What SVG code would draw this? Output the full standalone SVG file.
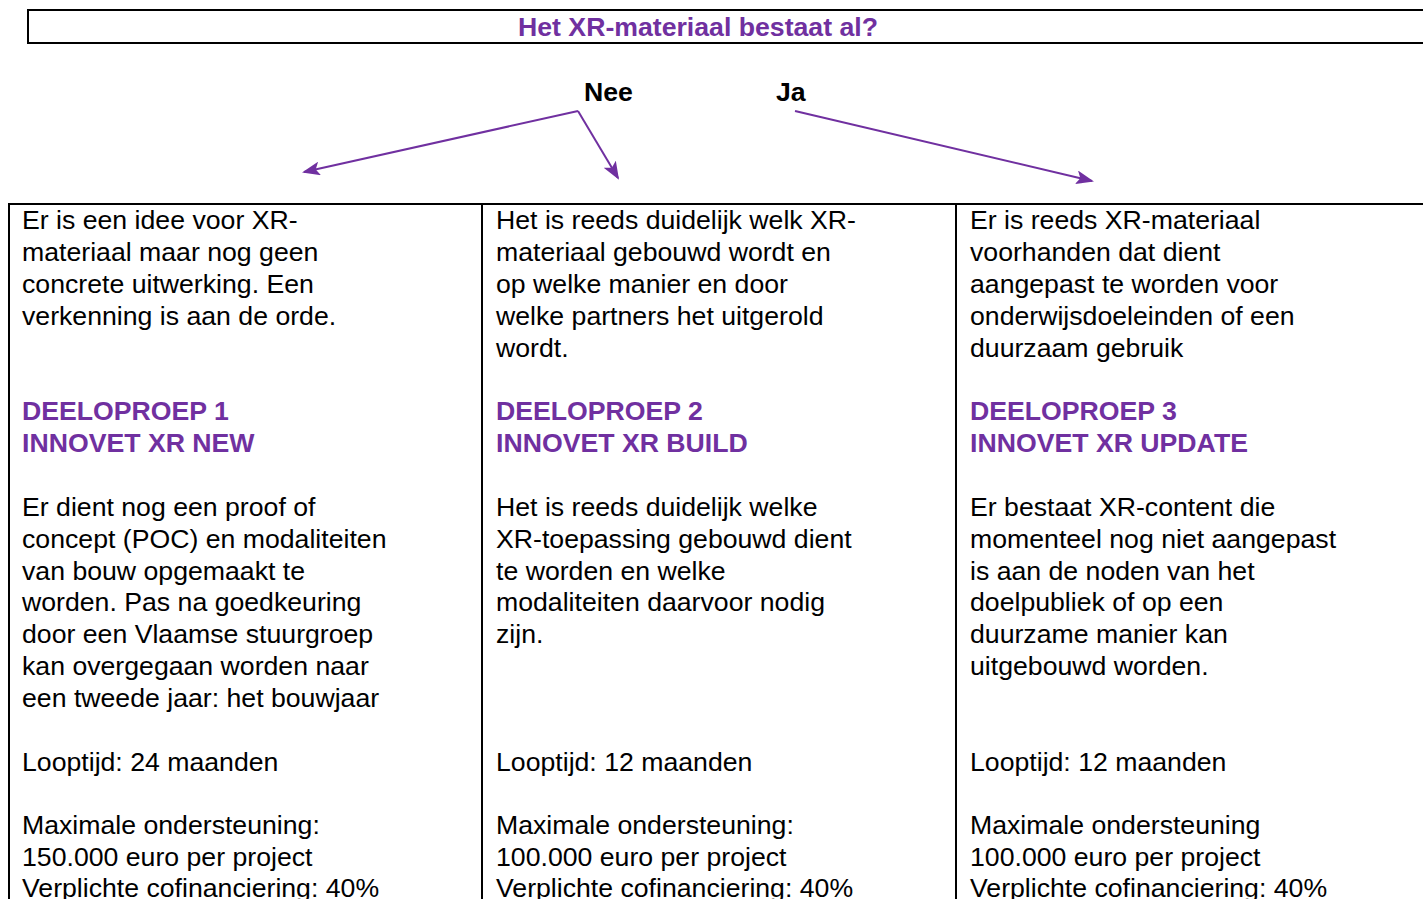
<svg xmlns="http://www.w3.org/2000/svg" width="1423" height="899" viewBox="0 0 1423 899">
<style>
.t{font-family:"Liberation Sans",Arial,sans-serif;font-size:26.67px;fill:#000}
.h{font-family:"Liberation Sans",Arial,sans-serif;font-size:26.67px;font-weight:bold;fill:#7030A0}
.b{font-family:"Liberation Sans",Arial,sans-serif;font-size:26.67px;font-weight:bold;fill:#000}
.ln{stroke:#000;stroke-width:2;fill:none}
.ar{stroke:#7030A0;stroke-width:2;fill:none;marker-end:url(#ah)}
</style>
<defs>
<marker id="ah" viewBox="0 0 18 14" refX="16" refY="7" markerWidth="18" markerHeight="14" markerUnits="userSpaceOnUse" orient="auto">
<path d="M0,0 L18,7 L0,14 L4,7 Z" fill="#7030A0"/>
</marker>
</defs>
<rect width="1423" height="899" fill="#fff"/>
<g id="question">
<rect x="28" y="10" width="1400" height="33" class="ln"/>
<text x="698" y="36" class="h" text-anchor="middle">Het XR-materiaal bestaat al?</text>
</g>
<g id="labels">
<text x="584" y="101" class="b">Nee</text>
<text x="776" y="101" class="b">Ja</text>
</g>
<g id="connectors">
<polyline points="578,111 304,172" class="ar"/>
<polyline points="578,111 618,178" class="ar"/>
<polyline points="795,111 1092,181" class="ar"/>
</g>
<g id="table">
<line x1="8" y1="204" x2="1423" y2="204" class="ln"/>
<line x1="9" y1="204" x2="9" y2="899" class="ln"/>
<line x1="482" y1="204" x2="482" y2="899" class="ln"/>
<line x1="956" y1="204" x2="956" y2="899" class="ln"/>
</g>
<g id="col1">
<text class="t" x="22"><tspan x="22" y="229">Er is een idee voor XR-</tspan><tspan x="22" y="261">materiaal maar nog geen</tspan><tspan x="22" y="293">concrete uitwerking. Een</tspan><tspan x="22" y="325">verkenning is aan de orde.</tspan></text>
<text class="h"><tspan x="22" y="420">DEELOPROEP 1</tspan><tspan x="22" y="452">INNOVET XR NEW</tspan></text>
<text class="t"><tspan x="22" y="516">Er dient nog een proof of</tspan><tspan x="22" y="548">concept (POC) en modaliteiten</tspan><tspan x="22" y="580">van bouw opgemaakt te</tspan><tspan x="22" y="611">worden. Pas na goedkeuring</tspan><tspan x="22" y="643">door een Vlaamse stuurgroep</tspan><tspan x="22" y="675">kan overgegaan worden naar</tspan><tspan x="22" y="707">een tweede jaar: het bouwjaar</tspan></text>
<text class="t" x="22" y="771">Looptijd: 24 maanden</text>
<text class="t"><tspan x="22" y="834">Maximale ondersteuning:</tspan><tspan x="22" y="866">150.000 euro per project</tspan><tspan x="22" y="897">Verplichte cofinanciering: 40%</tspan></text>
</g>
<g id="col2">
<text class="t"><tspan x="496" y="229">Het is reeds duidelijk welk XR-</tspan><tspan x="496" y="261">materiaal gebouwd wordt en</tspan><tspan x="496" y="293">op welke manier en door</tspan><tspan x="496" y="325">welke partners het uitgerold</tspan><tspan x="496" y="357">wordt.</tspan></text>
<text class="h"><tspan x="496" y="420">DEELOPROEP 2</tspan><tspan x="496" y="452">INNOVET XR BUILD</tspan></text>
<text class="t"><tspan x="496" y="516">Het is reeds duidelijk welke</tspan><tspan x="496" y="548">XR-toepassing gebouwd dient</tspan><tspan x="496" y="580">te worden en welke</tspan><tspan x="496" y="611">modaliteiten daarvoor nodig</tspan><tspan x="496" y="643">zijn.</tspan></text>
<text class="t" x="496" y="771">Looptijd: 12 maanden</text>
<text class="t"><tspan x="496" y="834">Maximale ondersteuning:</tspan><tspan x="496" y="866">100.000 euro per project</tspan><tspan x="496" y="897">Verplichte cofinanciering: 40%</tspan></text>
</g>
<g id="col3">
<text class="t"><tspan x="970" y="229">Er is reeds XR-materiaal</tspan><tspan x="970" y="261">voorhanden dat dient</tspan><tspan x="970" y="293">aangepast te worden voor</tspan><tspan x="970" y="325">onderwijsdoeleinden of een</tspan><tspan x="970" y="357">duurzaam gebruik</tspan></text>
<text class="h"><tspan x="970" y="420">DEELOPROEP 3</tspan><tspan x="970" y="452">INNOVET XR UPDATE</tspan></text>
<text class="t"><tspan x="970" y="516">Er bestaat XR-content die</tspan><tspan x="970" y="548">momenteel nog niet aangepast</tspan><tspan x="970" y="580">is aan de noden van het</tspan><tspan x="970" y="611">doelpubliek of op een</tspan><tspan x="970" y="643">duurzame manier kan</tspan><tspan x="970" y="675">uitgebouwd worden.</tspan></text>
<text class="t" x="970" y="771">Looptijd: 12 maanden</text>
<text class="t"><tspan x="970" y="834">Maximale ondersteuning</tspan><tspan x="970" y="866">100.000 euro per project</tspan><tspan x="970" y="897">Verplichte cofinanciering: 40%</tspan></text>
</g>
</svg>
